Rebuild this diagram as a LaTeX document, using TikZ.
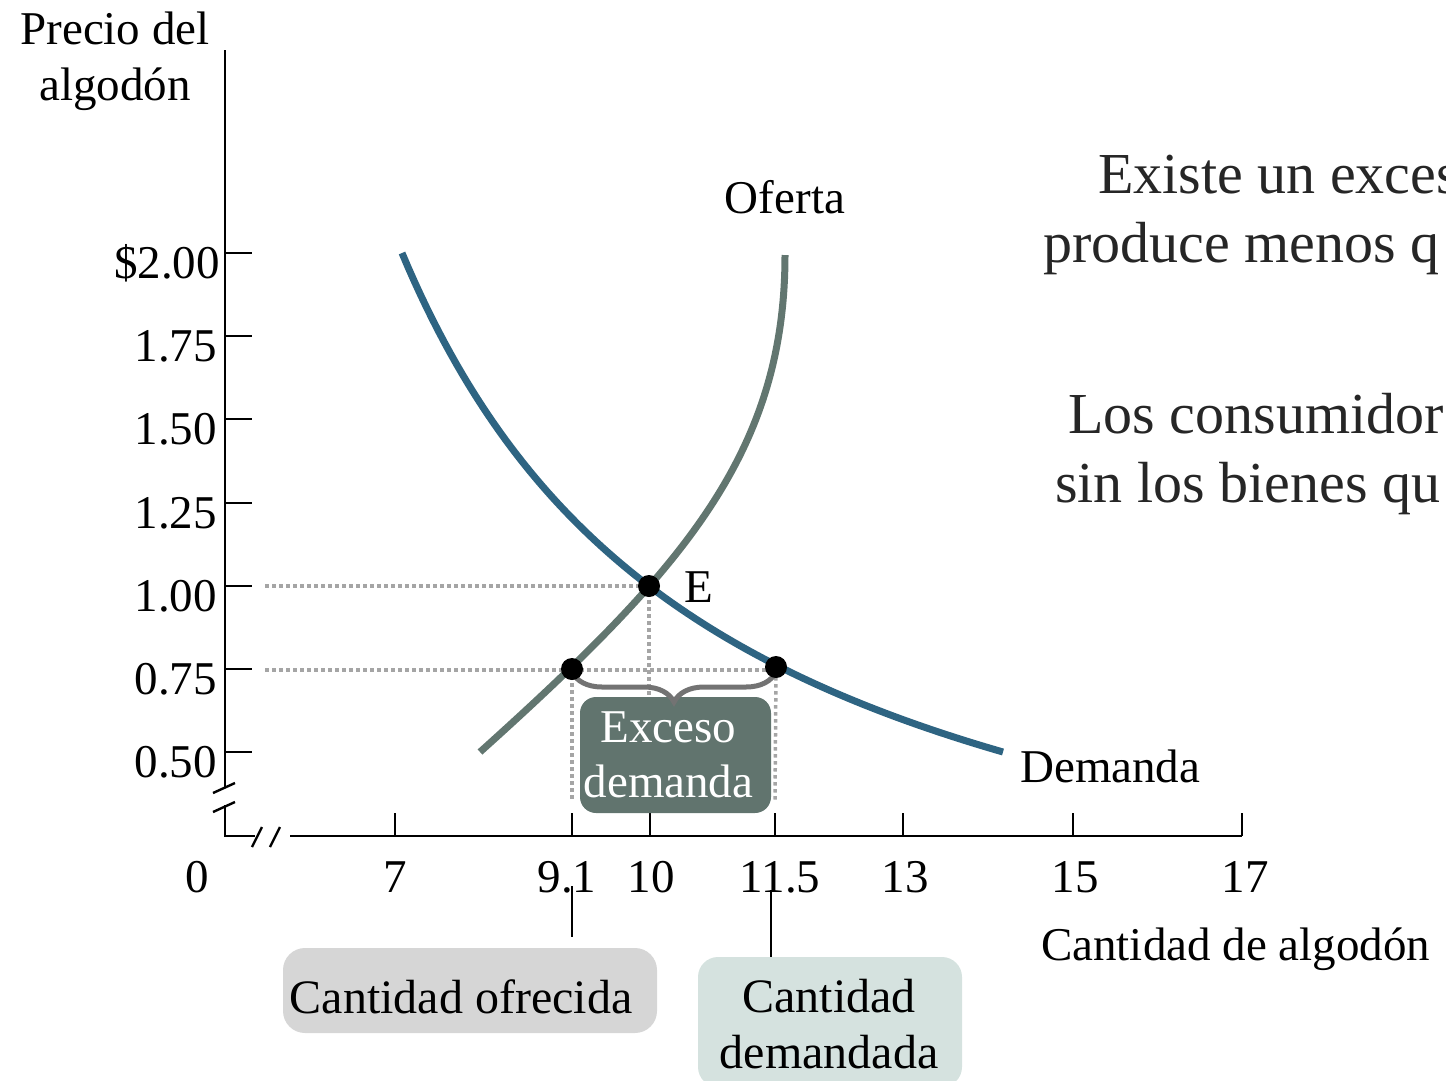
\documentclass[tikz,border=0pt]{standalone}
\usepackage{fontspec}
\setmainfont{Liberation Serif}
\usetikzlibrary{decorations.pathreplacing}
\definecolor{demcol}{RGB}{46,100,130}
\definecolor{supcol}{RGB}{98,118,112}
\definecolor{boxcol}{RGB}{97,116,110}
\definecolor{bracecol}{RGB}{115,115,115}
\definecolor{dotcol}{RGB}{165,165,165}
\definecolor{ofrcol}{RGB}{214,214,214}
\definecolor{demboxcol}{RGB}{213,226,223}
\definecolor{txtcol}{RGB}{38,38,38}
\begin{document}
\begin{tikzpicture}[x=1pt,y=-1pt,
  lbl/.style={font=\fontsize{47}{55}\selectfont, inner sep=0pt},
  ticklbl/.style={lbl, anchor=base},
  ylbl/.style={lbl, anchor=base east},
  axisline/.style={line width=2.4pt, black},
  guide/.style={dotcol, line width=3.5pt, dash pattern=on 3.5pt off 3.5pt},
  curvedem/.style={demcol, line width=7pt},
  curvesup/.style={supcol, line width=7pt},
  dotpt/.style={circle, fill=black, minimum size=22pt, inner sep=0pt},
  note/.style={font=\fontsize{58}{70}\selectfont, text=txtcol, inner sep=0pt, anchor=base west},
  pointer/.style={line width=1.6pt, black},
  bottomtxt/.style={font=\fontsize{48}{56}\selectfont, inner sep=0pt, anchor=base},
]
\useasboundingbox (0,0) rectangle (1446,1080);

% axes
\coordinate (ytop) at (225,50);
\coordinate (ybreak) at (225,787);
\coordinate (ybreakb) at (225,805);
\coordinate (orig) at (225,836);
\coordinate (xbreak) at (255,836);
\coordinate (xbreakb) at (290,836);
\coordinate (xend) at (1242,836);
\draw[axisline] (ytop) -- (ybreak);
\draw[axisline] (ybreakb) -- (orig) -- (xbreak);
\draw[axisline] (xbreakb) -- (xend);
\draw[axisline] (213,793) -- (235,783);
\draw[axisline] (213,812) -- (235,802);
\draw[axisline] (252,847) -- (262,827);
\draw[axisline] (270,847) -- (280,827);

\foreach \y in {253,336,419,503,586,669,752} \draw[axisline] (225,\y) -- (252,\y);
\foreach \x in {395,572,650,775,903,1073,1242} \draw[axisline] (\x,836) -- (\x,813);

% y labels
\node[ylbl] (y200) at (220,278) {\$2.00};
\node[ylbl] (y175) at (217,361) {1.75};
\node[ylbl] (y150) at (217,444) {1.50};
\node[ylbl] (y125) at (217,528) {1.25};
\node[ylbl] (y100) at (217,611) {1.00};
\node[ylbl] (y075) at (217,694) {0.75};
\node[ylbl] (y050) at (217,777) {0.50};

% x labels
\node[ticklbl] (x0) at (197,892) {0};
\node[ticklbl] (x7) at (395,892) {7};
\node[ticklbl] (x91) at (567,892) {9.1};
\node[ticklbl] (x10) at (651,892) {10};
\node[ticklbl] (x115) at (780,892) {11.5};
\node[ticklbl] (x13) at (905,892) {13};
\node[ticklbl] (x15) at (1075,892) {15};
\node[ticklbl] (x17) at (1245,892) {17};

% axis titles
\node[lbl, anchor=base] (ylab1) at (115,44) {Precio del};
\node[lbl, anchor=base] (ylab2) at (115,100) {algodón};
\node[lbl, anchor=base west] (xlab) at (1041,960) {Cantidad de algodón};

% points
\coordinate (E) at (649,586);
\coordinate (S2) at (572,669);
\coordinate (D2) at (776,667);
\coordinate (g1) at (265,586);
\coordinate (g2) at (265,670);
\coordinate (g2e) at (776,670);
\coordinate (gE) at (649,695);
\coordinate (gS) at (572,800);
\coordinate (gD) at (775,800);

% guides
\draw[guide] (g1) -- (E);
\draw[guide] (g2) -- (g2e);
\draw[guide] (E) -- (gE);
\draw[guide] (S2) -- (gS);
\draw[guide] (D2 |- g2e) -- (gD);

% excess box and brace
\node[fill=boxcol, rounded corners=16pt, minimum width=191pt, minimum height=116pt] (exc) at (675.5,755) {};
\node[lbl, text=white, align=center] (exctxt) at (668.5,755) {Exceso\\demanda};
\draw[bracecol, line width=5pt, decorate, decoration={brace, amplitude=30pt, mirror}] (572,672) -- (776,672);

% curves
\draw[curvesup] (480,752) .. controls (680,572) and (785,455) .. (785,255);
\draw[curvedem] plot[domain=402:1003, samples=100] (\x, {1018.1 - 2452.12/((\x-81.5)/100)});

\node[dotpt] (Edot) at (E) {};
\node[dotpt] (Sdot) at (S2) {};
\node[dotpt] (Ddot) at (D2) {};

\node[lbl, anchor=base west] (elbl) at (684,602) {E};
\node[lbl, anchor=base] (oferta) at (785,213) {Oferta};
\node[lbl, anchor=base west] (demanda) at (1020,782) {Demanda};

% notes on the right (cut at the picture's edge, as in the reference)
\node[note] (n1) at (1098,193) {Existe un exces};
\node[note] (n2) at (1043,262) {produce menos q};
\node[note] (n3) at (1068,433) {Los consumidor};
\node[note] (n4) at (1055,502) {sin los bienes qu};

% bottom boxes
\node[fill=ofrcol, rounded corners=22pt, minimum width=374pt, minimum height=85pt] (ofr) at (470,990.5) {};
\node[bottomtxt] (ofrtxt) at (461,1013) {Cantidad ofrecida};
\node[fill=demboxcol, rounded corners=20pt, minimum width=264pt, minimum height=130pt] (dbox) at (830,1022) {};
\node[bottomtxt] (dtxt1) at (829,1012) {Cantidad};
\node[bottomtxt] (dtxt2) at (829,1068) {demandada};

\coordinate (p1) at (572,886);
\coordinate (p2) at (771,890);
\draw[pointer, shorten >=11pt] (p1) -- (p1 |- ofr.north);
\draw[pointer] (p2) -- (p2 |- dbox.north);
\end{tikzpicture}
\end{document}
